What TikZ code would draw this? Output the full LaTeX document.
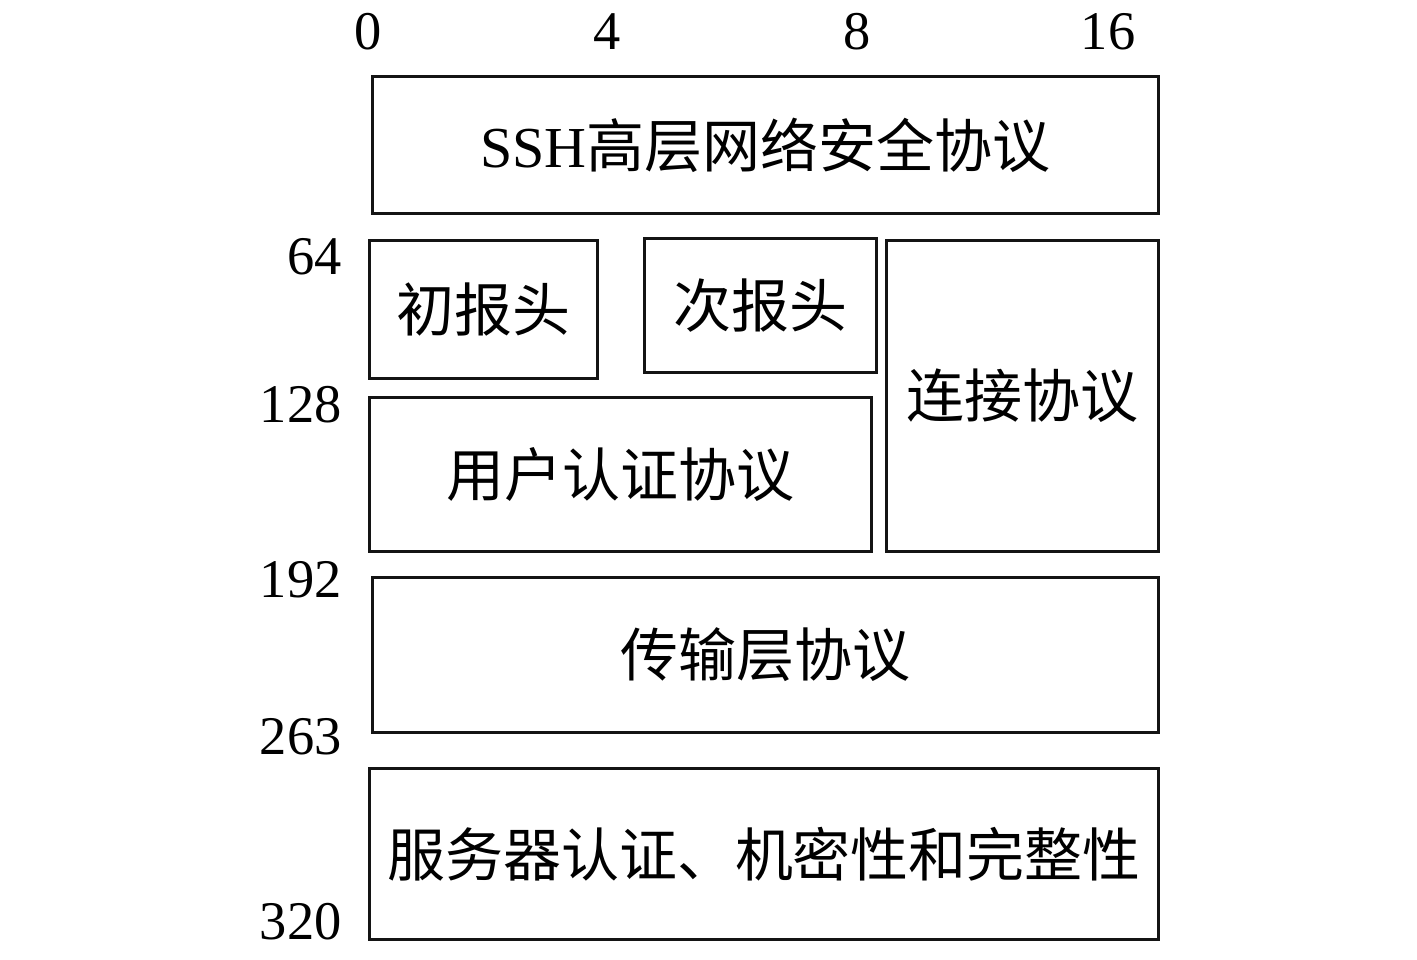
\documentclass[tikz,border=0pt]{standalone}
\usepackage{fontspec}
\setmainfont{Liberation Serif}
\newfontfamily\cjk{Noto Sans CJK SC}
\usepackage{xcolor}
\usepackage{tikz}
\usetikzlibrary{positioning, calc}
\definecolor{framegray}{RGB}{20, 20, 20}

\tikzset{
    layerbox/.style={draw=framegray, line width=1.8pt, inner sep=0pt, anchor=north west,
        font=\cjk\fontsize{33}{39}\selectfont},
    bitlabel/.style={font=\fontsize{31}{36}\selectfont, inner sep=0pt},
    offlabel/.style={font=\fontsize{31}{36}\selectfont, inner sep=0pt, anchor=east}
}

\begin{document}
\begin{tikzpicture}[x=0.02cm, y=-0.02cm]
    \useasboundingbox (0,0) rectangle (1417,960);

    % bit positions along the top
    \node[bitlabel] (b0) at (368,32) {0};
    \node[bitlabel] (b4) at (607,32) {4};
    \node[bitlabel] (b8) at (857,32) {8};
    \node[bitlabel] (b16) at (1108,32) {16};

    % byte offsets on the left
    \node[offlabel] (o64) at (342,257) {64};
    \node[offlabel] (o128) at (342,405) {128};
    \node[offlabel] (o192) at (342,580) {192};
    \node[offlabel] (o263) at (342,737) {263};
    \node[offlabel] (o320) at (342,922) {320};

    % protocol layers
    \node[layerbox, minimum width=15.72cm, minimum height=2.74cm] (ssh) at (371,75)
        {{\rmfamily SSH}高层网络安全协议};
    \node[layerbox, minimum width=4.56cm, minimum height=2.76cm] (firsthdr) at (368,239) {初报头};
    \node[layerbox, minimum width=4.64cm, minimum height=2.68cm] (secondhdr) at (643,237) {次报头};
    \node[layerbox, minimum width=5.44cm, minimum height=6.22cm] (conn) at (885,239) {连接协议};
    \node[layerbox, minimum width=10.04cm, minimum height=3.08cm] (userauth) at (368,396) {用户认证协议};
    \node[layerbox, minimum width=15.72cm, minimum height=3.10cm] (transport) at (371,576) {传输层协议};
    \node[layerbox, minimum width=15.78cm, minimum height=3.42cm] (server) at (368,767)
        {服务器认证、机密性和完整性};
\end{tikzpicture}
\end{document}
